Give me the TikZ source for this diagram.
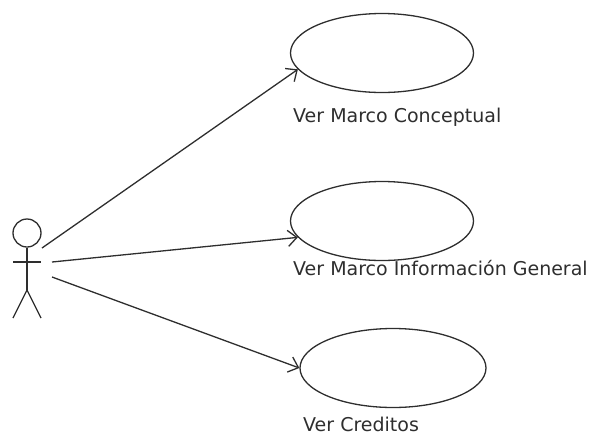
\documentclass[tikz,border=0pt]{standalone}
\usepackage{fontspec}
\setmainfont{DejaVu Sans}
\usetikzlibrary{arrows.meta,shapes.geometric}
\definecolor{ink}{HTML}{2E2E2E}
\tikzset{
  usecase/.style={draw=ink, line width=1.3pt, ellipse, minimum width=183pt, minimum height=79pt, inner sep=0pt},
  ucl/.style={anchor=base west, text=ink, font=\fontsize{19}{19}\selectfont, inner sep=0pt},
  assoc/.style={draw=ink, line width=1.3pt, -{Straight Barb[length=9pt,width=16pt]}},
  actorline/.style={draw=ink, line width=1.3pt}
}
\begin{document}
\begin{tikzpicture}[x=1pt,y=-1pt]
\useasboundingbox (0,0) rectangle (595,437);
% actor
\node[draw=ink, line width=1.3pt, circle, minimum size=28pt, inner sep=0pt] (head) at (27,233) {};
\coordinate (hip) at (27,290);
\coordinate (larm) at (13,262);
\coordinate (rarm) at (41,262);
\coordinate (lfoot) at (13,318);
\coordinate (rfoot) at (41,318);
\draw[actorline] (head.south) -- (hip);
\draw[actorline] (larm) -- (rarm);
\draw[actorline] (lfoot) -- (hip) -- (rfoot);
\coordinate (a1) at (42,248);
\coordinate (a2) at (52,262);
\coordinate (a3) at (52,277);
% use cases
\node[usecase] (uc1) at (382,53) {};
\node[usecase] (uc2) at (382,221) {};
\node[usecase, minimum width=186pt] (uc3) at (393,368) {};
\node[ucl] (l1) at (293,122) {Ver Marco Conceptual};
\node[ucl] (l2) at (293,275) {Ver Marco Información General};
\node[ucl] (l3) at (303,431) {Ver Creditos};
% associations
\draw[assoc] (a1) -- (uc1.191);
\draw[assoc] (a2) -- (uc2.191);
\draw[assoc] (a3) -- (uc3.west);
\end{tikzpicture}
\end{document}
